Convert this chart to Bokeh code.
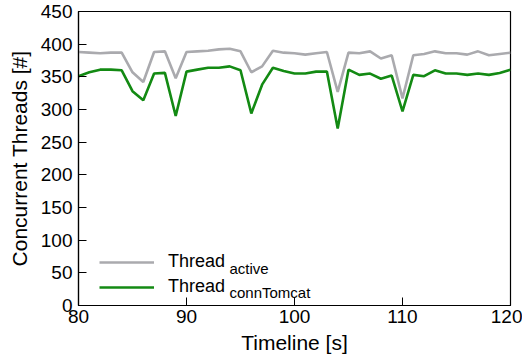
from bokeh.plotting import figure
from bokeh.models import Legend, LegendItem, Label, Range1d, FixedTicker
from bokeh.embed import file_html
from bokeh.resources import INLINE

time_s = list(range(80, 121))
thread_active = [388, 387, 386, 387, 387, 357, 342, 388, 389, 348,
                 388, 389, 390, 392, 393, 389, 357, 366, 390, 387,
                 386, 384, 386, 388, 327, 387, 386, 389, 378, 383,
                 317, 383, 385, 389, 386, 386, 384, 389, 383, 385, 387]
thread_conn_tomcat = [351, 357, 361, 361, 360, 328, 314, 355, 356, 290,
                      358, 361, 364, 364, 366, 360, 294, 338, 364, 359,
                      355, 355, 358, 358, 271, 361, 353, 355, 347, 352,
                      297, 353, 351, 360, 355, 355, 353, 355, 353, 356, 361]
x_ticks = [80, 90, 100, 110, 120]
y_ticks = [0, 50, 100, 150, 200, 250, 300, 350, 400, 450]

FONT = "Liberation Sans"

p = figure(width=522, height=356, output_backend="svg", toolbar_location=None,
           x_range=Range1d(80, 120), y_range=Range1d(0, 450),
           min_border_left=78, min_border_right=12, min_border_top=11, min_border_bottom=50)
p.xgrid.visible = False
p.ygrid.visible = False
p.outline_line_color = "black"
p.outline_line_width = 1.2
p.background_fill_color = "white"
p.border_fill_color = "white"

for ax in (p.xaxis[0], p.yaxis[0]):
    ax.major_tick_in = 8
    ax.major_tick_out = 0
    ax.minor_tick_line_color = None
    ax.axis_line_color = "black"
    ax.axis_line_width = 1.2
    ax.major_tick_line_color = "black"
    ax.major_label_text_font = FONT
    ax.major_label_text_font_size = "19px"
    ax.major_label_text_color = "black"
    ax.axis_label_text_font = FONT
    ax.axis_label_text_font_size = "21px"
    ax.axis_label_text_font_style = "normal"
    ax.axis_label_text_color = "black"

p.xaxis[0].ticker = FixedTicker(ticks=x_ticks)
p.yaxis[0].ticker = FixedTicker(ticks=y_ticks)
p.xaxis[0].axis_label = "Timeline [s]"
p.yaxis[0].axis_label = "Concurrent Threads [#]"
p.xaxis[0].major_label_standoff = 4
p.yaxis[0].major_label_standoff = 6
p.xaxis[0].axis_label_standoff = 5
p.yaxis[0].axis_label_standoff = 7

r1 = p.line(time_s, thread_active, line_color="#aaaaae", line_width=2.6)
r2 = p.line(time_s, thread_conn_tomcat, line_color="#138a13", line_width=2.6)

legend = Legend(items=[LegendItem(label="Thread", renderers=[r1]),
                       LegendItem(label="Thread", renderers=[r2])],
                location=(21, 8), glyph_width=55, glyph_height=20, label_height=20,
                label_standoff=14, spacing=4, padding=0, margin=0,
                border_line_alpha=0, background_fill_alpha=0,
                label_text_font=FONT, label_text_font_size="18px", label_text_color="black")
p.add_layout(legend)

p.add_layout(Label(x=151, y=37, x_units="screen", y_units="screen", text="active",
                   text_font=FONT, text_font_size="15px", text_color="black",
                   text_baseline="alphabetic"))
p.add_layout(Label(x=151, y=13, x_units="screen", y_units="screen", text="connTomcat",
                   text_font=FONT, text_font_size="15px", text_color="black",
                   text_baseline="alphabetic"))

open("out.html", "w").write(file_html(p, INLINE))
